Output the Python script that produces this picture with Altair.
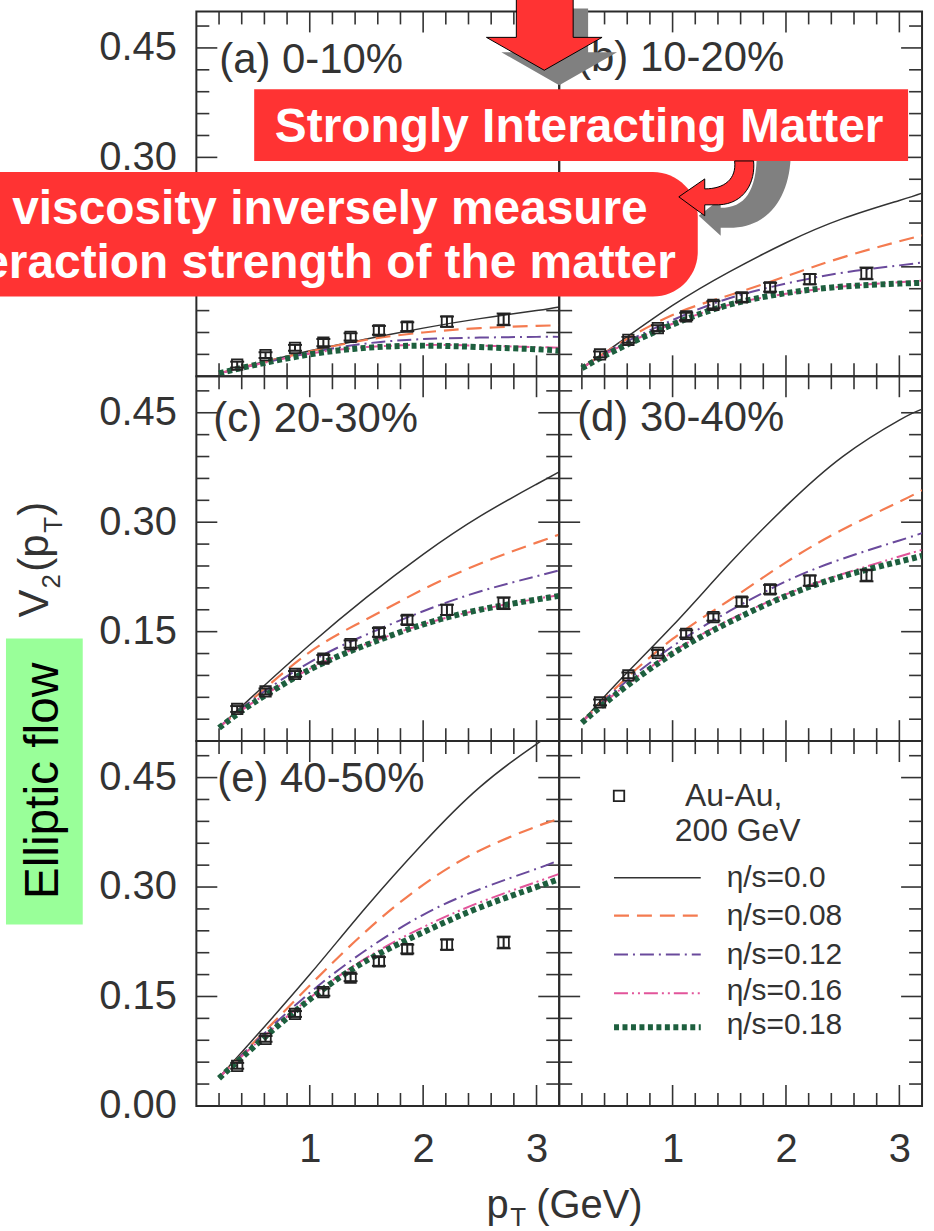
import altair as alt
import pandas as pd

FONT = "Liberation Sans"
INK = "#333333"

# ---------------- layout (pixels) ----------------
W, H = 364, 366          # each panel's plot area
LEFT, TOP = 196, 7       # global position of panel (a)

# ---------------- axes ----------------
X_DOMAIN = [0, 3.2]
Y_DOMAIN = [0, 0.5]
X_LABELS = [1, 2, 3]
X_MINOR = [0.2, 0.4, 0.6, 0.8, 1.2, 1.4, 1.6, 1.8, 2.2, 2.4, 2.6, 2.8]
X_MAJOR = [1, 2, 3]
Y_MINOR = [0.03, 0.06, 0.09, 0.12, 0.18, 0.21, 0.24, 0.27, 0.33, 0.36, 0.39, 0.42, 0.48]
Y_MAJOR = [0.15, 0.30, 0.45]
Y_LABELS_TOP = [0.15, 0.30, 0.45]
Y_LABELS_BOTTOM = [0.0, 0.15, 0.30, 0.45]

# ---------------- data ----------------
SERIES = ["η/s=0.0", "η/s=0.08", "η/s=0.12", "η/s=0.16", "η/s=0.18"]
PT_GRID = [0.2, 0.5, 1.0, 1.5, 2.0, 2.5, 3.0, 3.2]

A_CURVES = [
    [0.004, 0.016, 0.035, 0.051, 0.066, 0.079, 0.090, 0.095],
    [0.004, 0.016, 0.034, 0.050, 0.060, 0.066, 0.069, 0.070],
    [0.004, 0.015, 0.032, 0.045, 0.051, 0.053, 0.054, 0.054],
    [0.004, 0.015, 0.031, 0.040, 0.043, 0.042, 0.040, 0.039],
    [0.004, 0.015, 0.030, 0.039, 0.042, 0.040, 0.037, 0.035],
]
B_CURVES = [
    [0.011, 0.043, 0.097, 0.143, 0.183, 0.216, 0.241, 0.251],
    [0.011, 0.042, 0.084, 0.111, 0.137, 0.163, 0.185, 0.193],
    [0.011, 0.040, 0.077, 0.107, 0.127, 0.142, 0.152, 0.156],
    [0.011, 0.038, 0.072, 0.098, 0.113, 0.123, 0.129, 0.131],
    [0.011, 0.036, 0.071, 0.098, 0.114, 0.123, 0.127, 0.128],
]
C_CURVES = [
    [0.019, 0.062, 0.132, 0.197, 0.256, 0.308, 0.352, 0.369],
    [0.019, 0.058, 0.122, 0.167, 0.208, 0.243, 0.272, 0.283],
    [0.019, 0.057, 0.108, 0.146, 0.178, 0.205, 0.226, 0.234],
    [0.019, 0.053, 0.099, 0.133, 0.160, 0.180, 0.195, 0.200],
    [0.018, 0.052, 0.098, 0.132, 0.160, 0.180, 0.194, 0.199],
]
D_CURVES = [
    [0.026, 0.078, 0.158, 0.243, 0.322, 0.390, 0.440, 0.455],
    [0.026, 0.073, 0.140, 0.193, 0.245, 0.290, 0.328, 0.344],
    [0.026, 0.070, 0.130, 0.178, 0.219, 0.250, 0.275, 0.285],
    [0.026, 0.066, 0.122, 0.166, 0.201, 0.229, 0.253, 0.262],
    [0.025, 0.064, 0.120, 0.163, 0.199, 0.226, 0.246, 0.254],
]
E_CURVES = [
    [0.039, 0.091, 0.180, 0.273, 0.360, 0.437, 0.496, 0.516],
    [0.039, 0.086, 0.165, 0.240, 0.303, 0.350, 0.383, 0.393],
    [0.039, 0.085, 0.155, 0.214, 0.262, 0.297, 0.325, 0.337],
    [0.039, 0.082, 0.148, 0.203, 0.245, 0.279, 0.307, 0.318],
    [0.038, 0.080, 0.146, 0.199, 0.238, 0.272, 0.300, 0.311],
]

PT_DATA = [0.36, 0.61, 0.87, 1.12, 1.36, 1.61, 1.86, 2.21, 2.71]
A_DATA = [0.016, 0.029, 0.039, 0.046, 0.054, 0.063, 0.068, 0.075, 0.078]
B_DATA = [0.030, 0.050, 0.066, 0.082, 0.098, 0.108, 0.122, 0.133, 0.141]
C_DATA = [0.044, 0.068, 0.092, 0.113, 0.133, 0.149, 0.166, 0.180, 0.189]
D_DATA = [0.053, 0.090, 0.121, 0.147, 0.170, 0.191, 0.208, 0.220, 0.227]
E_DATA = [0.055, 0.092, 0.126, 0.156, 0.176, 0.198, 0.215, 0.221, 0.224]
ERR = [0.004, 0.004, 0.004, 0.005, 0.005, 0.006, 0.006, 0.007, 0.008]

STYLES = [
    dict(color="#333333", strokeWidth=1.5),
    dict(color="#f47b50", strokeWidth=2.2, strokeDash=[15, 8]),
    dict(color="#6a4a9c", strokeWidth=2.0, strokeDash=[14, 5, 2, 5]),
    dict(color="#e2549a", strokeWidth=2.0, strokeDash=[14, 4, 2, 4, 2, 4]),
    dict(color="#1d5f3e", strokeWidth=6, strokeDash=[5, 3.5]),
]

ONE = alt.Data(values=[{"k": 1}])
RED = "#ff3333"
GREY = "#808080"


def sym(cmds, cx, cy, s):
    out = []
    for c in cmds:
        nums = c[1:]
        pts = [f"{(nums[i] - cx) / s:.4f} {(nums[i + 1] - cy) / s:.4f}" for i in range(0, len(nums), 2)]
        out.append(c[0] + (" " + " ".join(pts) if pts else ""))
    return " ".join(out)


def shape_layer(cmds, cx, cy, s, ox, oy, fill, stroke=None):
    kw = dict(shape=sym(cmds, cx, cy, s), size=(2 * s) ** 2, filled=True, fill=fill, opacity=1)
    if stroke:
        kw.update(stroke=stroke, strokeWidth=1)
    else:
        kw.update(strokeWidth=0)
    return alt.Chart(ONE).mark_point(**kw).encode(x=alt.value(cx - ox), y=alt.value(cy - oy))


def text_layer(txt, x, y, size, ox, oy, **kw):
    props = dict(text=txt, fontSize=size, font=FONT, color=INK, align="left", baseline="middle")
    props.update(kw)
    return alt.Chart(ONE).mark_text(**props).encode(x=alt.value(x - ox), y=alt.value(y - oy))


def make_panel(curves, data_y, label, label_pos, show_x, y_labels, extra=()):
    xs = alt.Scale(domain=X_DOMAIN, nice=False, zero=False)
    ys = alt.Scale(domain=Y_DOMAIN, nice=False, zero=False)
    common = dict(title=None, grid=False, domain=False, ticks=False, tickSize=0,
                  labelFont=FONT, labelColor=INK, labelFontSize=40)
    x_axis = alt.Axis(values=X_LABELS, format="d", labelPadding=24, **common) if show_x else None
    y_axis = alt.Axis(values=y_labels, format=".2f", labelPadding=20, **common) if y_labels else None

    def X(f):
        return alt.X(f, type="quantitative", scale=xs, axis=x_axis)

    def Y(f):
        return alt.Y(f, type="quantitative", scale=ys, axis=y_axis)

    layers = []
    # inward ticks on the four sides
    for vals, ln in ((X_MINOR, 13), (X_MAJOR, 21)):
        df = pd.DataFrame({"t": vals})
        layers.append(alt.Chart(df).mark_rule(color=INK, strokeWidth=1.6).encode(
            x=X("t"), y=alt.value(H), y2=alt.value(H - ln)))
        layers.append(alt.Chart(df).mark_rule(color=INK, strokeWidth=1.6).encode(
            x=X("t"), y=alt.value(0), y2=alt.value(ln)))
    for vals, ln in ((Y_MINOR, 13), (Y_MAJOR, 21)):
        df = pd.DataFrame({"t": vals})
        layers.append(alt.Chart(df).mark_rule(color=INK, strokeWidth=1.6).encode(
            y=Y("t"), x=alt.value(0), x2=alt.value(ln)))
        layers.append(alt.Chart(df).mark_rule(color=INK, strokeWidth=1.6).encode(
            y=Y("t"), x=alt.value(W), x2=alt.value(W - ln)))

    if curves is not None:
        for name, vals, st in zip(SERIES, curves, STYLES):
            df = pd.DataFrame({"pt": PT_GRID, "v2": vals, "s": name})
            layers.append(alt.Chart(df).mark_line(interpolate="natural", clip=True, **st).encode(
                x=X("pt"), y=Y("v2")))
    if data_y is not None:
        df = pd.DataFrame({"pt": PT_DATA, "v2": data_y,
                           "lo": [v - e for v, e in zip(data_y, ERR)],
                           "hi": [v + e for v, e in zip(data_y, ERR)]})
        layers.append(alt.Chart(df).mark_rule(color="#222222", strokeWidth=2).encode(
            x=X("pt"), y=Y("lo"), y2=alt.Y2("hi")))
        for f in ("lo", "hi"):
            layers.append(alt.Chart(df).mark_tick(color="#222222", orient="horizontal", size=14,
                                                  thickness=2, opacity=1).encode(x=X("pt"), y=Y(f)))
        layers.append(alt.Chart(df).mark_point(shape="square", size=110, filled=False, color="#222222",
                                               strokeWidth=1.8, opacity=1).encode(x=X("pt"), y=Y("v2")))
    if label:
        layers.append(text_layer(label, label_pos[0], label_pos[1], 42, 0, 0))
    layers.extend(extra)
    return alt.layer(*layers).properties(width=W, height=H)


# ---------------- overlays (global pixel geometry) ----------------
# panel (b) origin
BX, BY = LEFT + W, TOP
down_arrow = [("M", 517, -11), ("L", 574, -11), ("L", 574, 33), ("L", 603, 33),
              ("L", 545, 66), ("L", 487, 33), ("L", 517, 33), ("Z",)]
down_shadow = [(c[0],) + tuple(v + 15 for v in c[1:]) for c in down_arrow]
hook = [("M", 736, 157), ("L", 755, 157), ("C", 757, 178, 746, 200, 720, 201), ("L", 706, 201),
        ("L", 706, 212), ("L", 680, 193), ("L", 706, 175), ("L", 706, 185),
        ("C", 726, 185, 738, 175, 736, 157), ("Z",)]
hook_shadow = [("M", 758, 140), ("L", 792, 140), ("C", 795, 185, 775, 222, 735, 224), ("L", 722, 224),
               ("L", 722, 232), ("L", 700, 212), ("L", 722, 195), ("L", 722, 204),
               ("C", 748, 204, 760, 185, 758, 140), ("Z",)]

b_extra = [
    shape_layer(hook_shadow, 745, 190, 50, BX, BY, GREY),
    shape_layer(down_shadow, 560, 43, 40, BX, BY, GREY),
    alt.Chart(ONE).mark_rect(color=RED, opacity=1).encode(
        x=alt.value(254 - BX), x2=alt.value(910 - BX), y=alt.value(85 - BY), y2=alt.value(157 - BY)),
    text_layer("Strongly Interacting Matter", 580, 138, 48, BX, BY, color="white", fontWeight="bold",
               align="center", baseline="alphabetic"),
    alt.Chart(ONE).mark_rect(color=RED, opacity=1, cornerRadius=45).encode(
        x=alt.value(-100 - BX), x2=alt.value(699 - BX), y=alt.value(168 - BY), y2=alt.value(293 - BY)),
    text_layer("viscosity inversely measure", 330, 220, 48, BX, BY, color="white", fontWeight="bold",
               align="center", baseline="alphabetic"),
    text_layer("interaction strength of the matter", 677, 274, 48, BX, BY, color="white",
               fontWeight="bold", align="right", baseline="alphabetic"),
    shape_layer(hook, 720, 185, 50, BX, BY, RED, "black"),
    shape_layer(down_arrow, 545, 28, 40, BX, BY, RED, "black"),
]

# panel (c) origin
CX, CY = LEFT, TOP + H
c_extra = [
    alt.Chart(ONE).mark_rect(color="#99ff99", opacity=1).encode(
        x=alt.value(5 - CX), x2=alt.value(82 - CX), y=alt.value(636 - CY), y2=alt.value(923 - CY)),
    text_layer("Elliptic flow", 43, 779, 48, CX, CY, color="black", angle=270, align="center"),
    text_layer("V", 47, 615, 42, CX, CY, angle=270, baseline="alphabetic"),
    text_layer("2", 59, 586, 26, CX, CY, angle=270, baseline="alphabetic"),
    text_layer("(p", 47, 569, 42, CX, CY, angle=270, baseline="alphabetic"),
    text_layer("T", 61, 530, 26, CX, CY, angle=270, baseline="alphabetic"),
    text_layer(")", 47, 513, 42, CX, CY, angle=270, baseline="alphabetic"),
]

# panel (e) origin
EX, EY = LEFT, TOP + 2 * H
e_extra = [
    text_layer("p", 487, 1217, 40, EX, EY, baseline="alphabetic"),
    text_layer("T", 511, 1225, 26, EX, EY, baseline="alphabetic"),
    text_layer("(GeV)", 537, 1217, 40, EX, EY, baseline="alphabetic"),
]

# legend panel
LX, LY = LEFT + W, TOP + 2 * H
LEG_Y = [137, 175, 214, 253, 287]
LEG_TEXT_Y = [137, 175, 215, 251, 285]
f_extra = [
    alt.Chart(ONE).mark_point(shape="square", size=110, filled=False, color="#222222",
                              strokeWidth=1.8, opacity=1).encode(x=alt.value(60), y=alt.value(55)),
    text_layer("Au-Au,", LX + 175, LY + 55, 32, LX, LY, align="center"),
    text_layer("200 GeV", LX + 179, LY + 90, 32, LX, LY, align="center"),
]
for name, st, ly, ty in zip(SERIES, STYLES, LEG_Y, LEG_TEXT_Y):
    f_extra.append(alt.Chart(ONE).mark_rule(**st).encode(
        x=alt.value(55), x2=alt.value(142), y=alt.value(ly)))
    f_extra.append(text_layer(name, LX + 168, LY + ty, 30, LX, LY))

pa = make_panel(A_CURVES, A_DATA, "(a) 0-10%", (23, 49), False, Y_LABELS_TOP)
pb = make_panel(B_CURVES, B_DATA, "(b) 10-20%", (18, 47), False, None, b_extra)
pc = make_panel(C_CURVES, C_DATA, "(c) 20-30%", (17, 43), False, Y_LABELS_TOP, c_extra)
pd_ = make_panel(D_CURVES, D_DATA, "(d) 30-40%", (18, 42), False, None)
pe = make_panel(E_CURVES, E_DATA, "(e) 40-50%", (21, 38), True, Y_LABELS_BOTTOM, e_extra)
pf = make_panel(None, None, None, None, True, None, f_extra)

chart = alt.concat(pa, pb, pc, pd_, pe, pf, columns=2, spacing=0, bounds="flush").properties(
    padding={"left": -100, "top": -11.5, "right": 10, "bottom": 2},
    background="white",
).configure_view(stroke="#2a2a2a", strokeWidth=2)

chart.save("out.html", embed_options={"renderer": "svg", "actions": False})
